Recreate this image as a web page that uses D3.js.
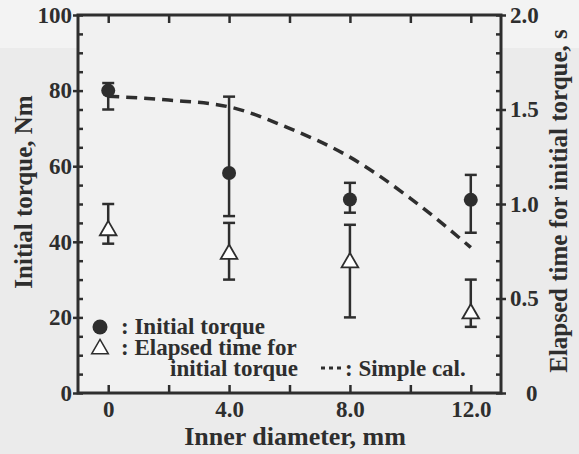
<!DOCTYPE html>
<html>
<head>
<meta charset="utf-8">
<script src="https://cdn.jsdelivr.net/npm/d3@7"></script>
</head>
<body style="margin:0; background:#ebebeb">
<script>
// diametros medidos
const diameters = [0, 4, 8, 12];
// torque inicial (Nm) con barras de error
const torqueMean = [80, 58.2, 51.2, 51.1];
const torqueLow = [75, 46.8, 47.7, 42.4];
const torqueHigh = [82, 78.4, 55.6, 57.7];
// tiempo transcurrido (s) con barras de error
const timeMean = [0.86, 0.735, 0.69, 0.42];
const timeLow = [0.79, 0.60, 0.40, 0.35];
const timeHigh = [1.0, 0.90, 0.89, 0.60];
// calculo simple
const calDiameters = [0, 2, 4, 6, 8, 10, 12];
const calTorque = [78.5, 77.5, 75.7, 70, 62.4, 51.5, 38.5];
// etiquetas de ejes
const xTicks = [0, 4, 8, 12];
const xMinor = [0, 2, 4, 6, 8, 10, 12];
const leftTicks = [0, 20, 40, 60, 80, 100];
const rightTicks = [0, 0.5, 1.0, 1.5, 2.0];

const width = 579;
const height = 454;
const padL = 78, padR = 501, padT = 15, padB = 393;
const ink = "#2e2e2e";
const serifName = 'Liberation Serif';

const xScale = d3.scaleLinear().domain([-1, 13]).range([padL, padR]);
const yLeft = d3.scaleLinear().domain([0, 100]).range([padB, padT]);
const yRight = d3.scaleLinear().domain([0, 2]).range([padB, padT]);

const svg = d3.select('body')
    .append('svg')
    .attr('width', width)
    .attr('height', height)
    .style('display', 'block');

// fondo
svg.append('rect').attr('width', width).attr('height', height).attr('fill', '#ebebeb');
svg.append('rect').attr('x', 0).attr('y', 0).attr('width', width).attr('height', 48).attr('fill', '#f3f3f3');
svg.append('rect').attr('x', padL).attr('y', padT).attr('width', padR - padL).attr('height', padB - padT).attr('fill', '#f1f1f1');

// texto en negrita serif
function label(sel, size) {
    return sel.attr('font-family', () => `"${serifName}"`).attr('font-weight', 'bold')
        .attr('font-size', size).attr('fill', ink);
}

function styleAxis(g) {
    g.attr('font-family', null).attr('font-size', null);
    g.select('.domain').remove();
    g.selectAll('line').attr('stroke', ink).attr('stroke-width', 2.5);
    g.selectAll('text').call(label, 23);
}

// ticks menores hacia dentro
svg.append('g').attr('transform', `translate(${padL},0)`)
    .call(d3.axisRight(yLeft).tickValues(d3.range(0, 101, 5)).tickSize(5).tickFormat(''))
    .call(styleAxis);
svg.append('g').attr('transform', `translate(${padR},0)`)
    .call(d3.axisLeft(yRight).tickValues(d3.range(0, 2.01, 0.1)).tickSize(5).tickFormat(''))
    .call(styleAxis);

// eje izq con etiquetas
svg.append('g').attr('transform', `translate(${padL},0)`)
    .call(d3.axisLeft(yLeft).tickValues(leftTicks).tickSize(5).tickPadding(1))
    .call(styleAxis);

// eje der con etiquetas
svg.append('g').attr('transform', `translate(${padR},0)`)
    .call(d3.axisRight(yRight).tickValues(rightTicks).tickSize(5).tickPadding(4)
        .tickFormat(d => d === 0 ? '0' : d3.format('.1f')(d)))
    .call(styleAxis)
    .selectAll('text').attr('dx', d => d === 0 ? 16 : 0);

// eje x abajo y arriba
svg.append('g').attr('transform', `translate(0,${padB})`)
    .call(d3.axisTop(xScale).tickValues(xMinor).tickSize(8).tickFormat(''))
    .call(styleAxis);
svg.append('g').attr('transform', `translate(0,${padT})`)
    .call(d3.axisBottom(xScale).tickValues(xMinor).tickSize(8).tickFormat(''))
    .call(styleAxis);
svg.append('g').attr('transform', `translate(0,${padB})`)
    .call(d3.axisBottom(xScale).tickValues(xTicks).tickSize(0).tickPadding(8)
        .tickFormat(d => d === 0 ? '0' : d3.format('.1f')(d)))
    .call(styleAxis);

// marco
svg.append('rect')
    .attr('x', padL).attr('y', padT)
    .attr('width', padR - padL).attr('height', padB - padT)
    .attr('fill', 'none').attr('stroke', ink).attr('stroke-width', 3);

// linea de calculo simple
const line = d3.line()
    .x((d, i) => xScale(calDiameters[i]))
    .y(d => yLeft(d))
    .curve(d3.curveMonotoneX);
svg.append('path')
    .datum(calTorque)
    .attr('d', line)
    .attr('fill', 'none')
    .attr('stroke', ink)
    .attr('stroke-width', 3.5)
    .attr('stroke-dasharray', '11,7');

// barras de error
function errorBars(lo, hi, scale) {
    const g = svg.append('g').attr('stroke', ink).attr('stroke-width', 2.5);
    diameters.forEach((d, i) => {
        const x = xScale(d);
        g.append('line').attr('x1', x).attr('x2', x).attr('y1', scale(lo[i])).attr('y2', scale(hi[i]));
        [lo[i], hi[i]].forEach(v => {
            g.append('line').attr('x1', x - 6).attr('x2', x + 6).attr('y1', scale(v)).attr('y2', scale(v));
        });
    });
}
errorBars(torqueLow, torqueHigh, yLeft);
errorBars(timeLow, timeHigh, yRight);

const triangle = d3.symbol().type(d3.symbolTriangle).size(120);

svg.selectAll('.torque')
    .data(torqueMean)
    .enter()
    .append('circle')
    .attr('class', 'torque')
    .attr('cx', (d, i) => xScale(diameters[i]))
    .attr('cy', d => yLeft(d))
    .attr('r', 7)
    .attr('fill', ink);

svg.selectAll('.time')
    .data(timeMean)
    .enter()
    .append('path')
    .attr('class', 'time')
    .attr('d', triangle)
    .attr('transform', (d, i) => `translate(${xScale(diameters[i])},${yRight(d)})`)
    .attr('fill', 'white')
    .attr('stroke', ink)
    .attr('stroke-width', 1.8);

// leyenda
const legend = svg.append('g');
legend.append('circle').attr('cx', 100).attr('cy', 327).attr('r', 7.5).attr('fill', ink);
legend.append('text').attr('x', 121).attr('y', 334).call(label, 23).text(': Initial torque');
legend.append('path').attr('d', triangle).attr('transform', 'translate(100,349)')
    .attr('fill', 'white').attr('stroke', ink).attr('stroke-width', 1.5);
legend.append('text').attr('x', 121).attr('y', 355).call(label, 23).text(': Elapsed time for');
legend.append('text').attr('x', 170).attr('y', 376).call(label, 23).text('initial torque');
legend.append('line').attr('x1', 321).attr('x2', 342).attr('y1', 368).attr('y2', 368)
    .attr('stroke', ink).attr('stroke-width', 3).attr('stroke-dasharray', '4,4');
legend.append('text').attr('x', 345).attr('y', 376).call(label, 23).text(': Simple cal.');

// titulos de ejes
svg.append('text')
    .attr('x', 295).attr('y', 445)
    .attr('text-anchor', 'middle').call(label, 26)
    .text('Inner diameter, mm');
svg.append('text')
    .attr('transform', 'translate(32,192) rotate(-90)')
    .attr('text-anchor', 'middle').call(label, 25)
    .text('Initial torque, Nm');
svg.append('text')
    .attr('transform', 'translate(567,201) rotate(-90)')
    .attr('text-anchor', 'middle').call(label, 25)
    .text('Elapsed time for initial torque, s');
</script>
</body>
</html>
